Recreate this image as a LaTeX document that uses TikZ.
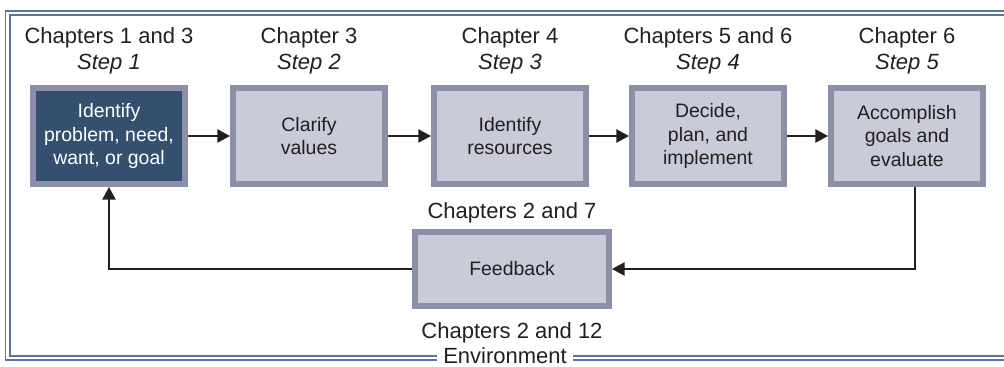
\documentclass[tikz,border=0pt]{standalone}
\usepackage{fontspec}
\setmainfont{Liberation Sans}
\usepackage{tikz}
\usetikzlibrary{arrows.meta,positioning}

\definecolor{boxgray}{HTML}{8B8FA8}
\definecolor{boxfill}{HTML}{C9CBD9}
\definecolor{darkfill}{HTML}{35506F}
\definecolor{framecol}{HTML}{5B7396}
\definecolor{txt}{HTML}{231F20}

\tikzset{
  stepbox/.style={draw=boxgray, line width=4.5pt, fill=boxfill, text=txt,
    minimum width=114pt, minimum height=72pt, inner sep=0pt, align=center,
    font=\fontsize{14.6}{17.5}\selectfont},
  chaplabel/.style={align=center, text=txt, font=\fontsize{16.5}{19.5}\selectfont},
  link/.style={line width=1.1pt, draw=txt, -{Triangle[length=9.5pt,width=10pt]}}
}

\begin{document}
\begin{tikzpicture}[x=0.75pt,y=-0.75pt,>=Latex]
  \useasboundingbox (0,0) rectangle (1004,367);

  % Steps
  \node[stepbox, fill=darkfill, text=white] (s1) at (109,136) {Identify\\problem, need,\\want, or goal};
  \node[stepbox] (s2) at (309,136) {Clarify\\values};
  \node[stepbox] (s3) at (510,136) {Identify\\resources};
  \node[stepbox] (s4) at (708,136) {Decide,\\plan, and\\implement};
  \node[stepbox] (s5) at (907,136) {Accomplish\\goals and\\evaluate};

  % Chapter labels above the steps
  \node[chaplabel, above=5pt of s1] (c1) {Chapters 1 and 3\\\textit{Step 1}};
  \node[chaplabel, above=5pt of s2] (c2) {Chapter 3\\\textit{Step 2}};
  \node[chaplabel, above=5pt of s3] (c3) {Chapter 4\\\textit{Step 3}};
  \node[chaplabel, above=5pt of s4] (c4) {Chapters 5 and 6\\\textit{Step 4}};
  \node[chaplabel, above=5pt of s5] (c5) {Chapter 6\\\textit{Step 5}};

  \foreach \a/\b in {1/2,2/3,3/4,4/5} {
    \draw[link] (s\a) -- (s\b);
  }

  % Feedback loop
  \node[stepbox, minimum width=145.5pt, minimum height=55.5pt] (fb) at (512,269) {Feedback};
  \node[chaplabel, above=1pt of fb] (c27) {Chapters 2 and 7};
  \node[chaplabel, below=7pt of fb] (c212) {Chapters 2 and 12};
  \draw[link] ([xshift=6pt]s5.south) |- (fb.east);
  \draw[link] (fb.west) -| (s1.south);

  % Environment frame
  \node[chaplabel, fill=white, inner xsep=5pt, inner ysep=0pt, outer sep=0pt] (env) at (505,356) {Environment};
  \draw[draw=framecol, line width=1.1pt, double=white, double distance=2.2pt]
    (env.west |- 0,358) -- (7.75,358) -- (7.75,13) -- (1004,13);
  \draw[draw=framecol, line width=1.1pt, double=white, double distance=2.2pt]
    (env.east |- 0,358) -- (1004,358);
\end{tikzpicture}
\end{document}
